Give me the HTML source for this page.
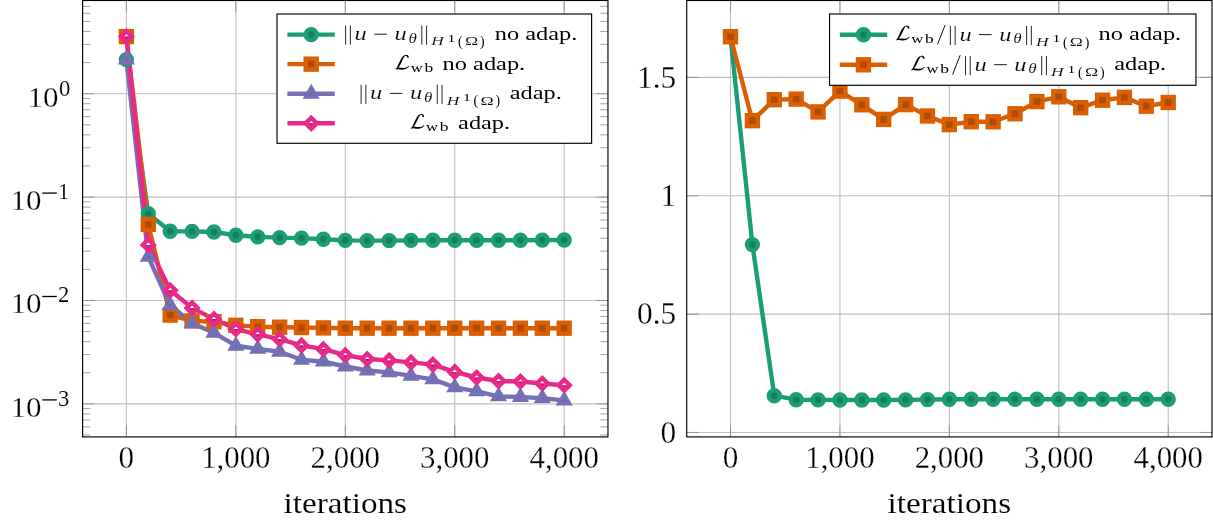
<!DOCTYPE html>
<html><head><meta charset="utf-8"><title>plots</title>
<style>html,body{margin:0;padding:0;background:#fff;}svg{display:block;will-change:transform;}text{font-family:"Liberation Serif",serif;}</style></head>
<body>
<svg width="1213" height="523" viewBox="0 0 1213 523" font-family="'Liberation Serif', serif">
<rect width="1213" height="523" fill="#fff"/>
<g><line x1="126.4" y1="0.5" x2="126.4" y2="436.92" stroke="#bfbfbf" stroke-width="1.1"/><line x1="235.85" y1="0.5" x2="235.85" y2="436.92" stroke="#bfbfbf" stroke-width="1.1"/><line x1="345.3" y1="0.5" x2="345.3" y2="436.92" stroke="#bfbfbf" stroke-width="1.1"/><line x1="454.75" y1="0.5" x2="454.75" y2="436.92" stroke="#bfbfbf" stroke-width="1.1"/><line x1="564.2" y1="0.5" x2="564.2" y2="436.92" stroke="#bfbfbf" stroke-width="1.1"/><line x1="82.6" y1="93.7" x2="607.96" y2="93.7" stroke="#bfbfbf" stroke-width="1.1"/><line x1="82.6" y1="197.1" x2="607.96" y2="197.1" stroke="#bfbfbf" stroke-width="1.1"/><line x1="82.6" y1="300.5" x2="607.96" y2="300.5" stroke="#bfbfbf" stroke-width="1.1"/><line x1="82.6" y1="403.9" x2="607.96" y2="403.9" stroke="#bfbfbf" stroke-width="1.1"/><line x1="126.4" y1="436.92" x2="126.4" y2="425.22" stroke="#808080" stroke-width="0.7"/><line x1="126.4" y1="0.5" x2="126.4" y2="12.2" stroke="#808080" stroke-width="0.7"/><line x1="235.85" y1="436.92" x2="235.85" y2="425.22" stroke="#808080" stroke-width="0.7"/><line x1="235.85" y1="0.5" x2="235.85" y2="12.2" stroke="#808080" stroke-width="0.7"/><line x1="345.3" y1="436.92" x2="345.3" y2="425.22" stroke="#808080" stroke-width="0.7"/><line x1="345.3" y1="0.5" x2="345.3" y2="12.2" stroke="#808080" stroke-width="0.7"/><line x1="454.75" y1="436.92" x2="454.75" y2="425.22" stroke="#808080" stroke-width="0.7"/><line x1="454.75" y1="0.5" x2="454.75" y2="12.2" stroke="#808080" stroke-width="0.7"/><line x1="564.2" y1="436.92" x2="564.2" y2="425.22" stroke="#808080" stroke-width="0.7"/><line x1="564.2" y1="0.5" x2="564.2" y2="12.2" stroke="#808080" stroke-width="0.7"/><line x1="82.6" y1="93.7" x2="94.3" y2="93.7" stroke="#808080" stroke-width="0.7"/><line x1="607.96" y1="93.7" x2="596.26" y2="93.7" stroke="#808080" stroke-width="0.7"/><line x1="82.6" y1="197.1" x2="94.3" y2="197.1" stroke="#808080" stroke-width="0.7"/><line x1="607.96" y1="197.1" x2="596.26" y2="197.1" stroke="#808080" stroke-width="0.7"/><line x1="82.6" y1="300.5" x2="94.3" y2="300.5" stroke="#808080" stroke-width="0.7"/><line x1="607.96" y1="300.5" x2="596.26" y2="300.5" stroke="#808080" stroke-width="0.7"/><line x1="82.6" y1="403.9" x2="94.3" y2="403.9" stroke="#808080" stroke-width="0.7"/><line x1="607.96" y1="403.9" x2="596.26" y2="403.9" stroke="#808080" stroke-width="0.7"/><line x1="82.6" y1="62.57" x2="90.4" y2="62.57" stroke="#808080" stroke-width="0.7"/><line x1="607.96" y1="62.57" x2="600.16" y2="62.57" stroke="#808080" stroke-width="0.7"/><line x1="82.6" y1="44.37" x2="90.4" y2="44.37" stroke="#808080" stroke-width="0.7"/><line x1="607.96" y1="44.37" x2="600.16" y2="44.37" stroke="#808080" stroke-width="0.7"/><line x1="82.6" y1="31.45" x2="90.4" y2="31.45" stroke="#808080" stroke-width="0.7"/><line x1="607.96" y1="31.45" x2="600.16" y2="31.45" stroke="#808080" stroke-width="0.7"/><line x1="82.6" y1="21.43" x2="90.4" y2="21.43" stroke="#808080" stroke-width="0.7"/><line x1="607.96" y1="21.43" x2="600.16" y2="21.43" stroke="#808080" stroke-width="0.7"/><line x1="82.6" y1="13.24" x2="90.4" y2="13.24" stroke="#808080" stroke-width="0.7"/><line x1="607.96" y1="13.24" x2="600.16" y2="13.24" stroke="#808080" stroke-width="0.7"/><line x1="82.6" y1="6.32" x2="90.4" y2="6.32" stroke="#808080" stroke-width="0.7"/><line x1="607.96" y1="6.32" x2="600.16" y2="6.32" stroke="#808080" stroke-width="0.7"/><line x1="82.6" y1="165.97" x2="90.4" y2="165.97" stroke="#808080" stroke-width="0.7"/><line x1="607.96" y1="165.97" x2="600.16" y2="165.97" stroke="#808080" stroke-width="0.7"/><line x1="82.6" y1="147.77" x2="90.4" y2="147.77" stroke="#808080" stroke-width="0.7"/><line x1="607.96" y1="147.77" x2="600.16" y2="147.77" stroke="#808080" stroke-width="0.7"/><line x1="82.6" y1="134.85" x2="90.4" y2="134.85" stroke="#808080" stroke-width="0.7"/><line x1="607.96" y1="134.85" x2="600.16" y2="134.85" stroke="#808080" stroke-width="0.7"/><line x1="82.6" y1="124.83" x2="90.4" y2="124.83" stroke="#808080" stroke-width="0.7"/><line x1="607.96" y1="124.83" x2="600.16" y2="124.83" stroke="#808080" stroke-width="0.7"/><line x1="82.6" y1="116.64" x2="90.4" y2="116.64" stroke="#808080" stroke-width="0.7"/><line x1="607.96" y1="116.64" x2="600.16" y2="116.64" stroke="#808080" stroke-width="0.7"/><line x1="82.6" y1="109.72" x2="90.4" y2="109.72" stroke="#808080" stroke-width="0.7"/><line x1="607.96" y1="109.72" x2="600.16" y2="109.72" stroke="#808080" stroke-width="0.7"/><line x1="82.6" y1="103.72" x2="90.4" y2="103.72" stroke="#808080" stroke-width="0.7"/><line x1="607.96" y1="103.72" x2="600.16" y2="103.72" stroke="#808080" stroke-width="0.7"/><line x1="82.6" y1="98.43" x2="90.4" y2="98.43" stroke="#808080" stroke-width="0.7"/><line x1="607.96" y1="98.43" x2="600.16" y2="98.43" stroke="#808080" stroke-width="0.7"/><line x1="82.6" y1="269.37" x2="90.4" y2="269.37" stroke="#808080" stroke-width="0.7"/><line x1="607.96" y1="269.37" x2="600.16" y2="269.37" stroke="#808080" stroke-width="0.7"/><line x1="82.6" y1="251.17" x2="90.4" y2="251.17" stroke="#808080" stroke-width="0.7"/><line x1="607.96" y1="251.17" x2="600.16" y2="251.17" stroke="#808080" stroke-width="0.7"/><line x1="82.6" y1="238.25" x2="90.4" y2="238.25" stroke="#808080" stroke-width="0.7"/><line x1="607.96" y1="238.25" x2="600.16" y2="238.25" stroke="#808080" stroke-width="0.7"/><line x1="82.6" y1="228.23" x2="90.4" y2="228.23" stroke="#808080" stroke-width="0.7"/><line x1="607.96" y1="228.23" x2="600.16" y2="228.23" stroke="#808080" stroke-width="0.7"/><line x1="82.6" y1="220.04" x2="90.4" y2="220.04" stroke="#808080" stroke-width="0.7"/><line x1="607.96" y1="220.04" x2="600.16" y2="220.04" stroke="#808080" stroke-width="0.7"/><line x1="82.6" y1="213.12" x2="90.4" y2="213.12" stroke="#808080" stroke-width="0.7"/><line x1="607.96" y1="213.12" x2="600.16" y2="213.12" stroke="#808080" stroke-width="0.7"/><line x1="82.6" y1="207.12" x2="90.4" y2="207.12" stroke="#808080" stroke-width="0.7"/><line x1="607.96" y1="207.12" x2="600.16" y2="207.12" stroke="#808080" stroke-width="0.7"/><line x1="82.6" y1="201.83" x2="90.4" y2="201.83" stroke="#808080" stroke-width="0.7"/><line x1="607.96" y1="201.83" x2="600.16" y2="201.83" stroke="#808080" stroke-width="0.7"/><line x1="82.6" y1="372.77" x2="90.4" y2="372.77" stroke="#808080" stroke-width="0.7"/><line x1="607.96" y1="372.77" x2="600.16" y2="372.77" stroke="#808080" stroke-width="0.7"/><line x1="82.6" y1="354.57" x2="90.4" y2="354.57" stroke="#808080" stroke-width="0.7"/><line x1="607.96" y1="354.57" x2="600.16" y2="354.57" stroke="#808080" stroke-width="0.7"/><line x1="82.6" y1="341.65" x2="90.4" y2="341.65" stroke="#808080" stroke-width="0.7"/><line x1="607.96" y1="341.65" x2="600.16" y2="341.65" stroke="#808080" stroke-width="0.7"/><line x1="82.6" y1="331.63" x2="90.4" y2="331.63" stroke="#808080" stroke-width="0.7"/><line x1="607.96" y1="331.63" x2="600.16" y2="331.63" stroke="#808080" stroke-width="0.7"/><line x1="82.6" y1="323.44" x2="90.4" y2="323.44" stroke="#808080" stroke-width="0.7"/><line x1="607.96" y1="323.44" x2="600.16" y2="323.44" stroke="#808080" stroke-width="0.7"/><line x1="82.6" y1="316.52" x2="90.4" y2="316.52" stroke="#808080" stroke-width="0.7"/><line x1="607.96" y1="316.52" x2="600.16" y2="316.52" stroke="#808080" stroke-width="0.7"/><line x1="82.6" y1="310.52" x2="90.4" y2="310.52" stroke="#808080" stroke-width="0.7"/><line x1="607.96" y1="310.52" x2="600.16" y2="310.52" stroke="#808080" stroke-width="0.7"/><line x1="82.6" y1="305.23" x2="90.4" y2="305.23" stroke="#808080" stroke-width="0.7"/><line x1="607.96" y1="305.23" x2="600.16" y2="305.23" stroke="#808080" stroke-width="0.7"/><line x1="82.6" y1="435.03" x2="90.4" y2="435.03" stroke="#808080" stroke-width="0.7"/><line x1="607.96" y1="435.03" x2="600.16" y2="435.03" stroke="#808080" stroke-width="0.7"/><line x1="82.6" y1="426.84" x2="90.4" y2="426.84" stroke="#808080" stroke-width="0.7"/><line x1="607.96" y1="426.84" x2="600.16" y2="426.84" stroke="#808080" stroke-width="0.7"/><line x1="82.6" y1="419.92" x2="90.4" y2="419.92" stroke="#808080" stroke-width="0.7"/><line x1="607.96" y1="419.92" x2="600.16" y2="419.92" stroke="#808080" stroke-width="0.7"/><line x1="82.6" y1="413.92" x2="90.4" y2="413.92" stroke="#808080" stroke-width="0.7"/><line x1="607.96" y1="413.92" x2="600.16" y2="413.92" stroke="#808080" stroke-width="0.7"/><line x1="82.6" y1="408.63" x2="90.4" y2="408.63" stroke="#808080" stroke-width="0.7"/><line x1="607.96" y1="408.63" x2="600.16" y2="408.63" stroke="#808080" stroke-width="0.7"/></g>
<g>
<polyline points="126.4,59.6 148.29,213.8 170.18,231.3 192.07,231.4 213.96,232 235.85,235.2 257.74,236.9 279.63,237.6 301.52,238.1 323.41,239.2 345.3,240.4 367.19,240.6 389.08,240.6 410.97,240.4 432.86,240.3 454.75,240.3 476.64,240.2 498.53,240.2 520.42,240.2 542.31,240.1 564.2,240" fill="none" stroke="#1b9e77" stroke-width="4.4" stroke-linejoin="round"/>
<polyline points="126.4,36.6 148.29,224.4 170.18,315.1 192.07,320.9 213.96,321.7 235.85,325.3 257.74,326.7 279.63,327.2 301.52,327.5 323.41,327.9 345.3,328.2 367.19,328.2 389.08,328.2 410.97,328.2 432.86,328.2 454.75,328.2 476.64,328.2 498.53,328.2 520.42,328.2 542.31,328.2 564.2,328.2" fill="none" stroke="#d95f02" stroke-width="4.4" stroke-linejoin="round"/>
<polyline points="126.4,59.6 148.29,256.8 170.18,305.3 192.07,323.2 213.96,332.8 235.85,345.7 257.74,348.9 279.63,351.7 301.52,359.8 323.41,361.6 345.3,366.5 367.19,370.5 389.08,372.4 410.97,375.9 432.86,379.3 454.75,387.4 476.64,391.4 498.53,396.4 520.42,397 542.31,398.1 564.2,400.5" fill="none" stroke="#7570b3" stroke-width="4.4" stroke-linejoin="round"/>
<polyline points="126.4,36.6 148.29,244.9 170.18,290.3 192.07,307.9 213.96,319.1 235.85,329.1 257.74,334.3 279.63,339.2 301.52,345.4 323.41,349.2 345.3,355.2 367.19,359 389.08,360.4 410.97,362.4 432.86,364.6 454.75,371.9 476.64,377.5 498.53,381 520.42,381.5 542.31,383.5 564.2,385.2" fill="none" stroke="#e7298a" stroke-width="4.4" stroke-linejoin="round"/>
</g><g>
<circle cx="126.4" cy="59.6" r="5.48" fill="#167e5f" stroke="#1b9e77" stroke-width="4.4"/>
<circle cx="148.29" cy="213.8" r="5.48" fill="#167e5f" stroke="#1b9e77" stroke-width="4.4"/>
<circle cx="170.18" cy="231.3" r="5.48" fill="#167e5f" stroke="#1b9e77" stroke-width="4.4"/>
<circle cx="192.07" cy="231.4" r="5.48" fill="#167e5f" stroke="#1b9e77" stroke-width="4.4"/>
<circle cx="213.96" cy="232" r="5.48" fill="#167e5f" stroke="#1b9e77" stroke-width="4.4"/>
<circle cx="235.85" cy="235.2" r="5.48" fill="#167e5f" stroke="#1b9e77" stroke-width="4.4"/>
<circle cx="257.74" cy="236.9" r="5.48" fill="#167e5f" stroke="#1b9e77" stroke-width="4.4"/>
<circle cx="279.63" cy="237.6" r="5.48" fill="#167e5f" stroke="#1b9e77" stroke-width="4.4"/>
<circle cx="301.52" cy="238.1" r="5.48" fill="#167e5f" stroke="#1b9e77" stroke-width="4.4"/>
<circle cx="323.41" cy="239.2" r="5.48" fill="#167e5f" stroke="#1b9e77" stroke-width="4.4"/>
<circle cx="345.3" cy="240.4" r="5.48" fill="#167e5f" stroke="#1b9e77" stroke-width="4.4"/>
<circle cx="367.19" cy="240.6" r="5.48" fill="#167e5f" stroke="#1b9e77" stroke-width="4.4"/>
<circle cx="389.08" cy="240.6" r="5.48" fill="#167e5f" stroke="#1b9e77" stroke-width="4.4"/>
<circle cx="410.97" cy="240.4" r="5.48" fill="#167e5f" stroke="#1b9e77" stroke-width="4.4"/>
<circle cx="432.86" cy="240.3" r="5.48" fill="#167e5f" stroke="#1b9e77" stroke-width="4.4"/>
<circle cx="454.75" cy="240.3" r="5.48" fill="#167e5f" stroke="#1b9e77" stroke-width="4.4"/>
<circle cx="476.64" cy="240.2" r="5.48" fill="#167e5f" stroke="#1b9e77" stroke-width="4.4"/>
<circle cx="498.53" cy="240.2" r="5.48" fill="#167e5f" stroke="#1b9e77" stroke-width="4.4"/>
<circle cx="520.42" cy="240.2" r="5.48" fill="#167e5f" stroke="#1b9e77" stroke-width="4.4"/>
<circle cx="542.31" cy="240.1" r="5.48" fill="#167e5f" stroke="#1b9e77" stroke-width="4.4"/>
<circle cx="564.2" cy="240" r="5.48" fill="#167e5f" stroke="#1b9e77" stroke-width="4.4"/>
<rect x="120.92" y="31.12" width="10.96" height="10.96" fill="#ae4c02" stroke="#d95f02" stroke-width="4.4"/>
<rect x="142.81" y="218.92" width="10.96" height="10.96" fill="#ae4c02" stroke="#d95f02" stroke-width="4.4"/>
<rect x="164.7" y="309.62" width="10.96" height="10.96" fill="#ae4c02" stroke="#d95f02" stroke-width="4.4"/>
<rect x="186.59" y="315.42" width="10.96" height="10.96" fill="#ae4c02" stroke="#d95f02" stroke-width="4.4"/>
<rect x="208.48" y="316.22" width="10.96" height="10.96" fill="#ae4c02" stroke="#d95f02" stroke-width="4.4"/>
<rect x="230.37" y="319.82" width="10.96" height="10.96" fill="#ae4c02" stroke="#d95f02" stroke-width="4.4"/>
<rect x="252.26" y="321.22" width="10.96" height="10.96" fill="#ae4c02" stroke="#d95f02" stroke-width="4.4"/>
<rect x="274.15" y="321.72" width="10.96" height="10.96" fill="#ae4c02" stroke="#d95f02" stroke-width="4.4"/>
<rect x="296.04" y="322.02" width="10.96" height="10.96" fill="#ae4c02" stroke="#d95f02" stroke-width="4.4"/>
<rect x="317.93" y="322.42" width="10.96" height="10.96" fill="#ae4c02" stroke="#d95f02" stroke-width="4.4"/>
<rect x="339.82" y="322.72" width="10.96" height="10.96" fill="#ae4c02" stroke="#d95f02" stroke-width="4.4"/>
<rect x="361.71" y="322.72" width="10.96" height="10.96" fill="#ae4c02" stroke="#d95f02" stroke-width="4.4"/>
<rect x="383.6" y="322.72" width="10.96" height="10.96" fill="#ae4c02" stroke="#d95f02" stroke-width="4.4"/>
<rect x="405.49" y="322.72" width="10.96" height="10.96" fill="#ae4c02" stroke="#d95f02" stroke-width="4.4"/>
<rect x="427.38" y="322.72" width="10.96" height="10.96" fill="#ae4c02" stroke="#d95f02" stroke-width="4.4"/>
<rect x="449.27" y="322.72" width="10.96" height="10.96" fill="#ae4c02" stroke="#d95f02" stroke-width="4.4"/>
<rect x="471.16" y="322.72" width="10.96" height="10.96" fill="#ae4c02" stroke="#d95f02" stroke-width="4.4"/>
<rect x="493.05" y="322.72" width="10.96" height="10.96" fill="#ae4c02" stroke="#d95f02" stroke-width="4.4"/>
<rect x="514.94" y="322.72" width="10.96" height="10.96" fill="#ae4c02" stroke="#d95f02" stroke-width="4.4"/>
<rect x="536.83" y="322.72" width="10.96" height="10.96" fill="#ae4c02" stroke="#d95f02" stroke-width="4.4"/>
<rect x="558.72" y="322.72" width="10.96" height="10.96" fill="#ae4c02" stroke="#d95f02" stroke-width="4.4"/>
<path d="M126.4 54.12L131.15 62.34L121.65 62.34Z" fill="#5e5a8f" stroke="#7570b3" stroke-width="4.4" stroke-linejoin="miter" stroke-miterlimit="10"/>
<path d="M148.29 251.32L153.04 259.54L143.54 259.54Z" fill="#5e5a8f" stroke="#7570b3" stroke-width="4.4" stroke-linejoin="miter" stroke-miterlimit="10"/>
<path d="M170.18 299.82L174.93 308.04L165.43 308.04Z" fill="#5e5a8f" stroke="#7570b3" stroke-width="4.4" stroke-linejoin="miter" stroke-miterlimit="10"/>
<path d="M192.07 317.72L196.82 325.94L187.32 325.94Z" fill="#5e5a8f" stroke="#7570b3" stroke-width="4.4" stroke-linejoin="miter" stroke-miterlimit="10"/>
<path d="M213.96 327.32L218.71 335.54L209.21 335.54Z" fill="#5e5a8f" stroke="#7570b3" stroke-width="4.4" stroke-linejoin="miter" stroke-miterlimit="10"/>
<path d="M235.85 340.22L240.6 348.44L231.1 348.44Z" fill="#5e5a8f" stroke="#7570b3" stroke-width="4.4" stroke-linejoin="miter" stroke-miterlimit="10"/>
<path d="M257.74 343.42L262.49 351.64L252.99 351.64Z" fill="#5e5a8f" stroke="#7570b3" stroke-width="4.4" stroke-linejoin="miter" stroke-miterlimit="10"/>
<path d="M279.63 346.22L284.38 354.44L274.88 354.44Z" fill="#5e5a8f" stroke="#7570b3" stroke-width="4.4" stroke-linejoin="miter" stroke-miterlimit="10"/>
<path d="M301.52 354.32L306.27 362.54L296.77 362.54Z" fill="#5e5a8f" stroke="#7570b3" stroke-width="4.4" stroke-linejoin="miter" stroke-miterlimit="10"/>
<path d="M323.41 356.12L328.16 364.34L318.66 364.34Z" fill="#5e5a8f" stroke="#7570b3" stroke-width="4.4" stroke-linejoin="miter" stroke-miterlimit="10"/>
<path d="M345.3 361.02L350.05 369.24L340.55 369.24Z" fill="#5e5a8f" stroke="#7570b3" stroke-width="4.4" stroke-linejoin="miter" stroke-miterlimit="10"/>
<path d="M367.19 365.02L371.94 373.24L362.44 373.24Z" fill="#5e5a8f" stroke="#7570b3" stroke-width="4.4" stroke-linejoin="miter" stroke-miterlimit="10"/>
<path d="M389.08 366.92L393.83 375.14L384.33 375.14Z" fill="#5e5a8f" stroke="#7570b3" stroke-width="4.4" stroke-linejoin="miter" stroke-miterlimit="10"/>
<path d="M410.97 370.42L415.72 378.64L406.22 378.64Z" fill="#5e5a8f" stroke="#7570b3" stroke-width="4.4" stroke-linejoin="miter" stroke-miterlimit="10"/>
<path d="M432.86 373.82L437.61 382.04L428.11 382.04Z" fill="#5e5a8f" stroke="#7570b3" stroke-width="4.4" stroke-linejoin="miter" stroke-miterlimit="10"/>
<path d="M454.75 381.92L459.5 390.14L450 390.14Z" fill="#5e5a8f" stroke="#7570b3" stroke-width="4.4" stroke-linejoin="miter" stroke-miterlimit="10"/>
<path d="M476.64 385.92L481.39 394.14L471.89 394.14Z" fill="#5e5a8f" stroke="#7570b3" stroke-width="4.4" stroke-linejoin="miter" stroke-miterlimit="10"/>
<path d="M498.53 390.92L503.28 399.14L493.78 399.14Z" fill="#5e5a8f" stroke="#7570b3" stroke-width="4.4" stroke-linejoin="miter" stroke-miterlimit="10"/>
<path d="M520.42 391.52L525.17 399.74L515.67 399.74Z" fill="#5e5a8f" stroke="#7570b3" stroke-width="4.4" stroke-linejoin="miter" stroke-miterlimit="10"/>
<path d="M542.31 392.62L547.06 400.84L537.56 400.84Z" fill="#5e5a8f" stroke="#7570b3" stroke-width="4.4" stroke-linejoin="miter" stroke-miterlimit="10"/>
<path d="M564.2 395.02L568.95 403.24L559.45 403.24Z" fill="#5e5a8f" stroke="#7570b3" stroke-width="4.4" stroke-linejoin="miter" stroke-miterlimit="10"/>
<path d="M126.4 31.12L131.88 36.6L126.4 42.08L120.92 36.6Z" fill="#e7298a" stroke="#e7298a" stroke-width="4.4" stroke-linejoin="miter" stroke-miterlimit="10"/><path d="M124.03 36.6L126.4 34.23L128.77 36.6Z" fill="#fff"/><path d="M124.03 36.6L128.77 36.6L126.4 38.97Z" fill="#b9216e"/>
<path d="M148.29 239.42L153.77 244.9L148.29 250.38L142.81 244.9Z" fill="#e7298a" stroke="#e7298a" stroke-width="4.4" stroke-linejoin="miter" stroke-miterlimit="10"/><path d="M145.92 244.9L148.29 242.53L150.66 244.9Z" fill="#fff"/><path d="M145.92 244.9L150.66 244.9L148.29 247.27Z" fill="#b9216e"/>
<path d="M170.18 284.82L175.66 290.3L170.18 295.78L164.7 290.3Z" fill="#e7298a" stroke="#e7298a" stroke-width="4.4" stroke-linejoin="miter" stroke-miterlimit="10"/><path d="M167.81 290.3L170.18 287.93L172.55 290.3Z" fill="#fff"/><path d="M167.81 290.3L172.55 290.3L170.18 292.67Z" fill="#b9216e"/>
<path d="M192.07 302.42L197.55 307.9L192.07 313.38L186.59 307.9Z" fill="#e7298a" stroke="#e7298a" stroke-width="4.4" stroke-linejoin="miter" stroke-miterlimit="10"/><path d="M189.7 307.9L192.07 305.53L194.44 307.9Z" fill="#fff"/><path d="M189.7 307.9L194.44 307.9L192.07 310.27Z" fill="#b9216e"/>
<path d="M213.96 313.62L219.44 319.1L213.96 324.58L208.48 319.1Z" fill="#e7298a" stroke="#e7298a" stroke-width="4.4" stroke-linejoin="miter" stroke-miterlimit="10"/><path d="M211.59 319.1L213.96 316.73L216.33 319.1Z" fill="#fff"/><path d="M211.59 319.1L216.33 319.1L213.96 321.47Z" fill="#b9216e"/>
<path d="M235.85 323.62L241.33 329.1L235.85 334.58L230.37 329.1Z" fill="#e7298a" stroke="#e7298a" stroke-width="4.4" stroke-linejoin="miter" stroke-miterlimit="10"/><path d="M233.48 329.1L235.85 326.73L238.22 329.1Z" fill="#fff"/><path d="M233.48 329.1L238.22 329.1L235.85 331.47Z" fill="#b9216e"/>
<path d="M257.74 328.82L263.22 334.3L257.74 339.78L252.26 334.3Z" fill="#e7298a" stroke="#e7298a" stroke-width="4.4" stroke-linejoin="miter" stroke-miterlimit="10"/><path d="M255.37 334.3L257.74 331.93L260.11 334.3Z" fill="#fff"/><path d="M255.37 334.3L260.11 334.3L257.74 336.67Z" fill="#b9216e"/>
<path d="M279.63 333.72L285.11 339.2L279.63 344.68L274.15 339.2Z" fill="#e7298a" stroke="#e7298a" stroke-width="4.4" stroke-linejoin="miter" stroke-miterlimit="10"/><path d="M277.26 339.2L279.63 336.83L282 339.2Z" fill="#fff"/><path d="M277.26 339.2L282 339.2L279.63 341.57Z" fill="#b9216e"/>
<path d="M301.52 339.92L307 345.4L301.52 350.88L296.04 345.4Z" fill="#e7298a" stroke="#e7298a" stroke-width="4.4" stroke-linejoin="miter" stroke-miterlimit="10"/><path d="M299.15 345.4L301.52 343.03L303.89 345.4Z" fill="#fff"/><path d="M299.15 345.4L303.89 345.4L301.52 347.77Z" fill="#b9216e"/>
<path d="M323.41 343.72L328.89 349.2L323.41 354.68L317.93 349.2Z" fill="#e7298a" stroke="#e7298a" stroke-width="4.4" stroke-linejoin="miter" stroke-miterlimit="10"/><path d="M321.04 349.2L323.41 346.83L325.78 349.2Z" fill="#fff"/><path d="M321.04 349.2L325.78 349.2L323.41 351.57Z" fill="#b9216e"/>
<path d="M345.3 349.72L350.78 355.2L345.3 360.68L339.82 355.2Z" fill="#e7298a" stroke="#e7298a" stroke-width="4.4" stroke-linejoin="miter" stroke-miterlimit="10"/><path d="M342.93 355.2L345.3 352.83L347.67 355.2Z" fill="#fff"/><path d="M342.93 355.2L347.67 355.2L345.3 357.57Z" fill="#b9216e"/>
<path d="M367.19 353.52L372.67 359L367.19 364.48L361.71 359Z" fill="#e7298a" stroke="#e7298a" stroke-width="4.4" stroke-linejoin="miter" stroke-miterlimit="10"/><path d="M364.82 359L367.19 356.63L369.56 359Z" fill="#fff"/><path d="M364.82 359L369.56 359L367.19 361.37Z" fill="#b9216e"/>
<path d="M389.08 354.92L394.56 360.4L389.08 365.88L383.6 360.4Z" fill="#e7298a" stroke="#e7298a" stroke-width="4.4" stroke-linejoin="miter" stroke-miterlimit="10"/><path d="M386.71 360.4L389.08 358.03L391.45 360.4Z" fill="#fff"/><path d="M386.71 360.4L391.45 360.4L389.08 362.77Z" fill="#b9216e"/>
<path d="M410.97 356.92L416.45 362.4L410.97 367.88L405.49 362.4Z" fill="#e7298a" stroke="#e7298a" stroke-width="4.4" stroke-linejoin="miter" stroke-miterlimit="10"/><path d="M408.6 362.4L410.97 360.03L413.34 362.4Z" fill="#fff"/><path d="M408.6 362.4L413.34 362.4L410.97 364.77Z" fill="#b9216e"/>
<path d="M432.86 359.12L438.34 364.6L432.86 370.08L427.38 364.6Z" fill="#e7298a" stroke="#e7298a" stroke-width="4.4" stroke-linejoin="miter" stroke-miterlimit="10"/><path d="M430.49 364.6L432.86 362.23L435.23 364.6Z" fill="#fff"/><path d="M430.49 364.6L435.23 364.6L432.86 366.97Z" fill="#b9216e"/>
<path d="M454.75 366.42L460.23 371.9L454.75 377.38L449.27 371.9Z" fill="#e7298a" stroke="#e7298a" stroke-width="4.4" stroke-linejoin="miter" stroke-miterlimit="10"/><path d="M452.38 371.9L454.75 369.53L457.12 371.9Z" fill="#fff"/><path d="M452.38 371.9L457.12 371.9L454.75 374.27Z" fill="#b9216e"/>
<path d="M476.64 372.02L482.12 377.5L476.64 382.98L471.16 377.5Z" fill="#e7298a" stroke="#e7298a" stroke-width="4.4" stroke-linejoin="miter" stroke-miterlimit="10"/><path d="M474.27 377.5L476.64 375.13L479.01 377.5Z" fill="#fff"/><path d="M474.27 377.5L479.01 377.5L476.64 379.87Z" fill="#b9216e"/>
<path d="M498.53 375.52L504.01 381L498.53 386.48L493.05 381Z" fill="#e7298a" stroke="#e7298a" stroke-width="4.4" stroke-linejoin="miter" stroke-miterlimit="10"/><path d="M496.16 381L498.53 378.63L500.9 381Z" fill="#fff"/><path d="M496.16 381L500.9 381L498.53 383.37Z" fill="#b9216e"/>
<path d="M520.42 376.02L525.9 381.5L520.42 386.98L514.94 381.5Z" fill="#e7298a" stroke="#e7298a" stroke-width="4.4" stroke-linejoin="miter" stroke-miterlimit="10"/><path d="M518.05 381.5L520.42 379.13L522.79 381.5Z" fill="#fff"/><path d="M518.05 381.5L522.79 381.5L520.42 383.87Z" fill="#b9216e"/>
<path d="M542.31 378.02L547.79 383.5L542.31 388.98L536.83 383.5Z" fill="#e7298a" stroke="#e7298a" stroke-width="4.4" stroke-linejoin="miter" stroke-miterlimit="10"/><path d="M539.94 383.5L542.31 381.13L544.68 383.5Z" fill="#fff"/><path d="M539.94 383.5L544.68 383.5L542.31 385.87Z" fill="#b9216e"/>
<path d="M564.2 379.72L569.68 385.2L564.2 390.68L558.72 385.2Z" fill="#e7298a" stroke="#e7298a" stroke-width="4.4" stroke-linejoin="miter" stroke-miterlimit="10"/><path d="M561.83 385.2L564.2 382.83L566.57 385.2Z" fill="#fff"/><path d="M561.83 385.2L566.57 385.2L564.2 387.57Z" fill="#b9216e"/>
</g>
<rect x="82.6" y="0.5" width="525.36" height="436.42" fill="none" stroke="#000" stroke-width="1.15"/>
<g><line x1="730.5" y1="0.5" x2="730.5" y2="436.92" stroke="#bfbfbf" stroke-width="1.1"/><line x1="839.93" y1="0.5" x2="839.93" y2="436.92" stroke="#bfbfbf" stroke-width="1.1"/><line x1="949.36" y1="0.5" x2="949.36" y2="436.92" stroke="#bfbfbf" stroke-width="1.1"/><line x1="1058.79" y1="0.5" x2="1058.79" y2="436.92" stroke="#bfbfbf" stroke-width="1.1"/><line x1="1168.22" y1="0.5" x2="1168.22" y2="436.92" stroke="#bfbfbf" stroke-width="1.1"/><line x1="686.72" y1="432.45" x2="1212" y2="432.45" stroke="#bfbfbf" stroke-width="1.1"/><line x1="686.72" y1="314.1" x2="1212" y2="314.1" stroke="#bfbfbf" stroke-width="1.1"/><line x1="686.72" y1="195.75" x2="1212" y2="195.75" stroke="#bfbfbf" stroke-width="1.1"/><line x1="686.72" y1="77.4" x2="1212" y2="77.4" stroke="#bfbfbf" stroke-width="1.1"/><line x1="730.5" y1="436.92" x2="730.5" y2="425.22" stroke="#808080" stroke-width="0.7"/><line x1="730.5" y1="0.5" x2="730.5" y2="12.2" stroke="#808080" stroke-width="0.7"/><line x1="839.93" y1="436.92" x2="839.93" y2="425.22" stroke="#808080" stroke-width="0.7"/><line x1="839.93" y1="0.5" x2="839.93" y2="12.2" stroke="#808080" stroke-width="0.7"/><line x1="949.36" y1="436.92" x2="949.36" y2="425.22" stroke="#808080" stroke-width="0.7"/><line x1="949.36" y1="0.5" x2="949.36" y2="12.2" stroke="#808080" stroke-width="0.7"/><line x1="1058.79" y1="436.92" x2="1058.79" y2="425.22" stroke="#808080" stroke-width="0.7"/><line x1="1058.79" y1="0.5" x2="1058.79" y2="12.2" stroke="#808080" stroke-width="0.7"/><line x1="1168.22" y1="436.92" x2="1168.22" y2="425.22" stroke="#808080" stroke-width="0.7"/><line x1="1168.22" y1="0.5" x2="1168.22" y2="12.2" stroke="#808080" stroke-width="0.7"/><line x1="686.72" y1="432.45" x2="698.42" y2="432.45" stroke="#808080" stroke-width="0.7"/><line x1="1212" y1="432.45" x2="1200.3" y2="432.45" stroke="#808080" stroke-width="0.7"/><line x1="686.72" y1="314.1" x2="698.42" y2="314.1" stroke="#808080" stroke-width="0.7"/><line x1="1212" y1="314.1" x2="1200.3" y2="314.1" stroke="#808080" stroke-width="0.7"/><line x1="686.72" y1="195.75" x2="698.42" y2="195.75" stroke="#808080" stroke-width="0.7"/><line x1="1212" y1="195.75" x2="1200.3" y2="195.75" stroke="#808080" stroke-width="0.7"/><line x1="686.72" y1="77.4" x2="698.42" y2="77.4" stroke="#808080" stroke-width="0.7"/><line x1="1212" y1="77.4" x2="1200.3" y2="77.4" stroke="#808080" stroke-width="0.7"/></g>
<g>
<polyline points="730.5,36.7 752.39,244.6 774.27,395.7 796.16,399.7 818.04,399.9 839.93,400 861.82,400 883.7,400 905.59,399.9 927.47,399.6 949.36,399.3 971.25,399.3 993.13,399.3 1015.02,399.3 1036.9,399.3 1058.79,399.3 1080.68,399.3 1102.56,399.3 1124.45,399.3 1146.33,399.3 1168.22,399.3" fill="none" stroke="#1b9e77" stroke-width="4.4" stroke-linejoin="round"/>
<polyline points="730.5,36.7 752.39,120.7 774.27,99.7 796.16,99.1 818.04,111.9 839.93,91.1 861.82,104.8 883.7,119.4 905.59,104.6 927.47,116 949.36,124.6 971.25,121.7 993.13,121.8 1015.02,113.8 1036.9,101.6 1058.79,96.8 1080.68,107.7 1102.56,100.2 1124.45,97.4 1146.33,106.2 1168.22,102.5" fill="none" stroke="#d95f02" stroke-width="4.4" stroke-linejoin="round"/>
</g><g>
<circle cx="730.5" cy="36.7" r="5.48" fill="#167e5f" stroke="#1b9e77" stroke-width="4.4"/>
<circle cx="752.39" cy="244.6" r="5.48" fill="#167e5f" stroke="#1b9e77" stroke-width="4.4"/>
<circle cx="774.27" cy="395.7" r="5.48" fill="#167e5f" stroke="#1b9e77" stroke-width="4.4"/>
<circle cx="796.16" cy="399.7" r="5.48" fill="#167e5f" stroke="#1b9e77" stroke-width="4.4"/>
<circle cx="818.04" cy="399.9" r="5.48" fill="#167e5f" stroke="#1b9e77" stroke-width="4.4"/>
<circle cx="839.93" cy="400" r="5.48" fill="#167e5f" stroke="#1b9e77" stroke-width="4.4"/>
<circle cx="861.82" cy="400" r="5.48" fill="#167e5f" stroke="#1b9e77" stroke-width="4.4"/>
<circle cx="883.7" cy="400" r="5.48" fill="#167e5f" stroke="#1b9e77" stroke-width="4.4"/>
<circle cx="905.59" cy="399.9" r="5.48" fill="#167e5f" stroke="#1b9e77" stroke-width="4.4"/>
<circle cx="927.47" cy="399.6" r="5.48" fill="#167e5f" stroke="#1b9e77" stroke-width="4.4"/>
<circle cx="949.36" cy="399.3" r="5.48" fill="#167e5f" stroke="#1b9e77" stroke-width="4.4"/>
<circle cx="971.25" cy="399.3" r="5.48" fill="#167e5f" stroke="#1b9e77" stroke-width="4.4"/>
<circle cx="993.13" cy="399.3" r="5.48" fill="#167e5f" stroke="#1b9e77" stroke-width="4.4"/>
<circle cx="1015.02" cy="399.3" r="5.48" fill="#167e5f" stroke="#1b9e77" stroke-width="4.4"/>
<circle cx="1036.9" cy="399.3" r="5.48" fill="#167e5f" stroke="#1b9e77" stroke-width="4.4"/>
<circle cx="1058.79" cy="399.3" r="5.48" fill="#167e5f" stroke="#1b9e77" stroke-width="4.4"/>
<circle cx="1080.68" cy="399.3" r="5.48" fill="#167e5f" stroke="#1b9e77" stroke-width="4.4"/>
<circle cx="1102.56" cy="399.3" r="5.48" fill="#167e5f" stroke="#1b9e77" stroke-width="4.4"/>
<circle cx="1124.45" cy="399.3" r="5.48" fill="#167e5f" stroke="#1b9e77" stroke-width="4.4"/>
<circle cx="1146.33" cy="399.3" r="5.48" fill="#167e5f" stroke="#1b9e77" stroke-width="4.4"/>
<circle cx="1168.22" cy="399.3" r="5.48" fill="#167e5f" stroke="#1b9e77" stroke-width="4.4"/>
<rect x="725.02" y="31.22" width="10.96" height="10.96" fill="#ae4c02" stroke="#d95f02" stroke-width="4.4"/>
<rect x="746.91" y="115.22" width="10.96" height="10.96" fill="#ae4c02" stroke="#d95f02" stroke-width="4.4"/>
<rect x="768.79" y="94.22" width="10.96" height="10.96" fill="#ae4c02" stroke="#d95f02" stroke-width="4.4"/>
<rect x="790.68" y="93.62" width="10.96" height="10.96" fill="#ae4c02" stroke="#d95f02" stroke-width="4.4"/>
<rect x="812.56" y="106.42" width="10.96" height="10.96" fill="#ae4c02" stroke="#d95f02" stroke-width="4.4"/>
<rect x="834.45" y="85.62" width="10.96" height="10.96" fill="#ae4c02" stroke="#d95f02" stroke-width="4.4"/>
<rect x="856.34" y="99.32" width="10.96" height="10.96" fill="#ae4c02" stroke="#d95f02" stroke-width="4.4"/>
<rect x="878.22" y="113.92" width="10.96" height="10.96" fill="#ae4c02" stroke="#d95f02" stroke-width="4.4"/>
<rect x="900.11" y="99.12" width="10.96" height="10.96" fill="#ae4c02" stroke="#d95f02" stroke-width="4.4"/>
<rect x="921.99" y="110.52" width="10.96" height="10.96" fill="#ae4c02" stroke="#d95f02" stroke-width="4.4"/>
<rect x="943.88" y="119.12" width="10.96" height="10.96" fill="#ae4c02" stroke="#d95f02" stroke-width="4.4"/>
<rect x="965.77" y="116.22" width="10.96" height="10.96" fill="#ae4c02" stroke="#d95f02" stroke-width="4.4"/>
<rect x="987.65" y="116.32" width="10.96" height="10.96" fill="#ae4c02" stroke="#d95f02" stroke-width="4.4"/>
<rect x="1009.54" y="108.32" width="10.96" height="10.96" fill="#ae4c02" stroke="#d95f02" stroke-width="4.4"/>
<rect x="1031.42" y="96.12" width="10.96" height="10.96" fill="#ae4c02" stroke="#d95f02" stroke-width="4.4"/>
<rect x="1053.31" y="91.32" width="10.96" height="10.96" fill="#ae4c02" stroke="#d95f02" stroke-width="4.4"/>
<rect x="1075.2" y="102.22" width="10.96" height="10.96" fill="#ae4c02" stroke="#d95f02" stroke-width="4.4"/>
<rect x="1097.08" y="94.72" width="10.96" height="10.96" fill="#ae4c02" stroke="#d95f02" stroke-width="4.4"/>
<rect x="1118.97" y="91.92" width="10.96" height="10.96" fill="#ae4c02" stroke="#d95f02" stroke-width="4.4"/>
<rect x="1140.85" y="100.72" width="10.96" height="10.96" fill="#ae4c02" stroke="#d95f02" stroke-width="4.4"/>
<rect x="1162.74" y="97.02" width="10.96" height="10.96" fill="#ae4c02" stroke="#d95f02" stroke-width="4.4"/>
</g>
<rect x="686.72" y="0.5" width="525.28" height="436.42" fill="none" stroke="#000" stroke-width="1.15"/>
<g stroke="#fff" stroke-width="0.26">
<text x="126.4" y="467.6" font-size="30.9" text-anchor="middle" textLength="15.6" lengthAdjust="spacingAndGlyphs" fill="#000">0</text>
<text x="730.5" y="467.6" font-size="30.9" text-anchor="middle" textLength="15.6" lengthAdjust="spacingAndGlyphs" fill="#000">0</text>
<text x="235.85" y="467.6" font-size="30.9" text-anchor="middle" textLength="69.4" lengthAdjust="spacingAndGlyphs" fill="#000">1,000</text>
<text x="839.93" y="467.6" font-size="30.9" text-anchor="middle" textLength="69.4" lengthAdjust="spacingAndGlyphs" fill="#000">1,000</text>
<text x="345.3" y="467.6" font-size="30.9" text-anchor="middle" textLength="69.4" lengthAdjust="spacingAndGlyphs" fill="#000">2,000</text>
<text x="949.36" y="467.6" font-size="30.9" text-anchor="middle" textLength="69.4" lengthAdjust="spacingAndGlyphs" fill="#000">2,000</text>
<text x="454.75" y="467.6" font-size="30.9" text-anchor="middle" textLength="69.4" lengthAdjust="spacingAndGlyphs" fill="#000">3,000</text>
<text x="1058.79" y="467.6" font-size="30.9" text-anchor="middle" textLength="69.4" lengthAdjust="spacingAndGlyphs" fill="#000">3,000</text>
<text x="564.2" y="467.6" font-size="30.9" text-anchor="middle" textLength="69.4" lengthAdjust="spacingAndGlyphs" fill="#000">4,000</text>
<text x="1168.22" y="467.6" font-size="30.9" text-anchor="middle" textLength="69.4" lengthAdjust="spacingAndGlyphs" fill="#000">4,000</text>
<text x="345.28" y="512.8" font-size="30.2" text-anchor="middle" textLength="123.5" lengthAdjust="spacingAndGlyphs" fill="#000" stroke-width="0.1">iterations</text>
<text x="949.36" y="512.8" font-size="30.2" text-anchor="middle" textLength="123.5" lengthAdjust="spacingAndGlyphs" fill="#000" stroke-width="0.1">iterations</text>
<text x="676.3" y="442.65" font-size="30.9" text-anchor="end" textLength="15.7" lengthAdjust="spacingAndGlyphs" fill="#000">0</text>
<text x="676.3" y="324.3" font-size="30.9" text-anchor="end" textLength="39.2" lengthAdjust="spacingAndGlyphs" fill="#000">0.5</text>
<text x="676.3" y="205.95" font-size="30.9" text-anchor="end" textLength="15.7" lengthAdjust="spacingAndGlyphs" fill="#000">1</text>
<text x="676.3" y="87.6" font-size="30.9" text-anchor="end" textLength="39.2" lengthAdjust="spacingAndGlyphs" fill="#000">1.5</text>
<text x="58.6" y="106.5" font-size="30.2" text-anchor="end" textLength="31" lengthAdjust="spacingAndGlyphs" fill="#000">10</text>
<text x="58.9" y="95.7" font-size="22.6" fill="#000" stroke-width="0.1">0</text>
<text x="41.6" y="209.9" font-size="30.2" text-anchor="end" textLength="31" lengthAdjust="spacingAndGlyphs" fill="#000">10</text>
<line x1="42.3" y1="193.1" x2="56.8" y2="193.1" stroke="#000" stroke-width="1.3"/>
<text x="58.1" y="199" font-size="22.6" fill="#000" stroke-width="0.1">1</text>
<text x="41.6" y="313.3" font-size="30.2" text-anchor="end" textLength="31" lengthAdjust="spacingAndGlyphs" fill="#000">10</text>
<line x1="42.3" y1="296.5" x2="56.8" y2="296.5" stroke="#000" stroke-width="1.3"/>
<text x="58.1" y="302.4" font-size="22.6" fill="#000" stroke-width="0.1">2</text>
<text x="41.6" y="416.7" font-size="30.2" text-anchor="end" textLength="31" lengthAdjust="spacingAndGlyphs" fill="#000">10</text>
<line x1="42.3" y1="399.9" x2="56.8" y2="399.9" stroke="#000" stroke-width="1.3"/>
<text x="58.1" y="405.8" font-size="22.6" fill="#000" stroke-width="0.1">3</text>
</g>
<g>
<rect x="277" y="14" width="314.6" height="129.3" fill="#fff" stroke="#000" stroke-width="1.15"/>
<line x1="287.4" y1="34.65" x2="334.8" y2="34.65" stroke="#1b9e77" stroke-width="4.4"/>
<circle cx="311.2" cy="34.65" r="5.48" fill="#167e5f" stroke="#1b9e77" stroke-width="4.4"/>
<line x1="287.4" y1="64.15" x2="334.8" y2="64.15" stroke="#d95f02" stroke-width="4.4"/>
<rect x="305.72" y="58.67" width="10.96" height="10.96" fill="#ae4c02" stroke="#d95f02" stroke-width="4.4"/>
<line x1="287.4" y1="93.7" x2="334.8" y2="93.7" stroke="#7570b3" stroke-width="4.4"/>
<path d="M311.2 88.22L315.95 96.44L306.45 96.44Z" fill="#5e5a8f" stroke="#7570b3" stroke-width="4.4" stroke-linejoin="miter" stroke-miterlimit="10"/>
<line x1="287.4" y1="123.3" x2="334.8" y2="123.3" stroke="#e7298a" stroke-width="4.4"/>
<path d="M311.2 117.82L316.68 123.3L311.2 128.78L305.72 123.3Z" fill="#e7298a" stroke="#e7298a" stroke-width="4.4" stroke-linejoin="miter" stroke-miterlimit="10"/><path d="M308.83 123.3L311.2 120.93L313.57 123.3Z" fill="#fff"/><path d="M308.83 123.3L313.57 123.3L311.2 125.67Z" fill="#b9216e"/>
<path d="M345.6 25.5V44.7M350.35 25.5V44.7" stroke="#111" stroke-width="0.9" fill="none"/><text x="354.6" y="40.2" font-size="19.8" font-style="italic" textLength="12.2" lengthAdjust="spacingAndGlyphs" fill="#000" stroke="#fff" stroke-width="0.15">u</text><line x1="374.2" y1="34.2" x2="386.9" y2="34.2" stroke="#000" stroke-width="0.9"/><text x="394.4" y="40.2" font-size="19.8" font-style="italic" textLength="12.2" lengthAdjust="spacingAndGlyphs" fill="#000" stroke="#fff" stroke-width="0.15">u</text><text x="408.4" y="42.9" font-size="14.5" font-style="italic" textLength="8.4" lengthAdjust="spacingAndGlyphs" fill="#000" stroke="#fff" stroke-width="0.12">θ</text><path d="M421.8 25.5V44.7M426.55 25.5V44.7" stroke="#111" stroke-width="0.9" fill="none"/><text x="431.2" y="45.3" font-size="12.4" font-style="italic" textLength="12.6" lengthAdjust="spacingAndGlyphs" fill="#000" stroke="#fff" stroke-width="0.12">H</text><text x="447.6" y="42" font-size="11" textLength="7.8" lengthAdjust="spacingAndGlyphs" fill="#000">1</text><text x="458.1" y="46.2" font-size="13.6" textLength="4.6" lengthAdjust="spacingAndGlyphs" fill="#000">(</text><text x="465" y="45.3" font-size="12.9" textLength="13.2" lengthAdjust="spacingAndGlyphs" fill="#000" stroke="#fff" stroke-width="0.12">Ω</text><text x="480" y="46.2" font-size="13.6" textLength="4.6" lengthAdjust="spacingAndGlyphs" fill="#000">)</text>
<text x="494.8" y="39.9" font-size="17.9" textLength="82.6" lengthAdjust="spacingAndGlyphs" fill="#000">no adap.</text>
<path transform="translate(395.5 69.5) scale(1.0)" d="M13.08 -11.44L13.2 -11.95L13.23 -12.45L13.17 -12.92L13.02 -13.35L12.8 -13.73L12.53 -14.04L12.21 -14.29L11.87 -14.47L11.5 -14.6L11.12 -14.67L10.74 -14.68L10.36 -14.63L10 -14.53L9.64 -14.37L9.96 -13.63L10.21 -13.68L10.46 -13.68L10.69 -13.65L10.9 -13.58L11.08 -13.48L11.24 -13.37L11.36 -13.24L11.45 -13.1L11.51 -12.96L11.53 -12.82L11.52 -12.68L11.49 -12.53L11.43 -12.36L11.32 -12.16ZM9.72 -14.39L8.8 -14.14L7.93 -13.6L7.11 -12.83L6.35 -11.88L5.64 -10.78L4.97 -9.57L4.34 -8.29L3.74 -6.98L3.16 -5.67L2.59 -4.4L2 -3.21L1.38 -2.12L0.72 -1.18L-0.03 -0.43L0.43 0.23L1.41 -0.48L2.35 -1.37L3.22 -2.43L4.03 -3.6L4.78 -4.86L5.47 -6.16L6.11 -7.46L6.69 -8.73L7.24 -9.93L7.76 -11.02L8.27 -11.96L8.78 -12.72L9.31 -13.28L9.88 -13.61ZM0.46 0.17L1.1 -0.18L1.78 -0.33L2.49 -0.33L3.27 -0.24L4.12 -0.11L5.05 0.03L6.05 0.13L7.11 0.16L8.22 0.06L9.35 -0.19L10.47 -0.63L11.56 -1.26L12.61 -2.1L13.68 -3.15L13.12 -3.65L12.11 -2.72L11.07 -2.13L10.05 -1.8L9.06 -1.64L8.1 -1.62L7.15 -1.67L6.2 -1.76L5.24 -1.84L4.27 -1.89L3.31 -1.86L2.37 -1.73L1.47 -1.45L0.66 -1L-0.06 -0.37Z" fill="#000"/><text x="410.7" y="71.8" font-size="13.4" textLength="12" lengthAdjust="spacingAndGlyphs" fill="#000">w</text><text x="424.5" y="71.8" font-size="13.4" textLength="8.8" lengthAdjust="spacingAndGlyphs" fill="#000">b</text>
<text x="442.6" y="69.5" font-size="17.9" textLength="82.6" lengthAdjust="spacingAndGlyphs" fill="#000">no adap.</text>
<path d="M361.1 84.7V103.9M365.85 84.7V103.9" stroke="#111" stroke-width="0.9" fill="none"/><text x="370.1" y="99.4" font-size="19.8" font-style="italic" textLength="12.2" lengthAdjust="spacingAndGlyphs" fill="#000" stroke="#fff" stroke-width="0.15">u</text><line x1="389.7" y1="93.4" x2="402.4" y2="93.4" stroke="#000" stroke-width="0.9"/><text x="409.9" y="99.4" font-size="19.8" font-style="italic" textLength="12.2" lengthAdjust="spacingAndGlyphs" fill="#000" stroke="#fff" stroke-width="0.15">u</text><text x="423.9" y="102.1" font-size="14.5" font-style="italic" textLength="8.4" lengthAdjust="spacingAndGlyphs" fill="#000" stroke="#fff" stroke-width="0.12">θ</text><path d="M437.3 84.7V103.9M442.05 84.7V103.9" stroke="#111" stroke-width="0.9" fill="none"/><text x="446.7" y="104.5" font-size="12.4" font-style="italic" textLength="12.6" lengthAdjust="spacingAndGlyphs" fill="#000" stroke="#fff" stroke-width="0.12">H</text><text x="463.1" y="101.2" font-size="11" textLength="7.8" lengthAdjust="spacingAndGlyphs" fill="#000">1</text><text x="473.6" y="105.4" font-size="13.6" textLength="4.6" lengthAdjust="spacingAndGlyphs" fill="#000">(</text><text x="480.5" y="104.5" font-size="12.9" textLength="13.2" lengthAdjust="spacingAndGlyphs" fill="#000" stroke="#fff" stroke-width="0.12">Ω</text><text x="495.5" y="105.4" font-size="13.6" textLength="4.6" lengthAdjust="spacingAndGlyphs" fill="#000">)</text>
<text x="509.8" y="99.1" font-size="17.9" textLength="52" lengthAdjust="spacingAndGlyphs" fill="#000">adap.</text>
<path transform="translate(410.8 128.7) scale(1.0)" d="M13.08 -11.44L13.2 -11.95L13.23 -12.45L13.17 -12.92L13.02 -13.35L12.8 -13.73L12.53 -14.04L12.21 -14.29L11.87 -14.47L11.5 -14.6L11.12 -14.67L10.74 -14.68L10.36 -14.63L10 -14.53L9.64 -14.37L9.96 -13.63L10.21 -13.68L10.46 -13.68L10.69 -13.65L10.9 -13.58L11.08 -13.48L11.24 -13.37L11.36 -13.24L11.45 -13.1L11.51 -12.96L11.53 -12.82L11.52 -12.68L11.49 -12.53L11.43 -12.36L11.32 -12.16ZM9.72 -14.39L8.8 -14.14L7.93 -13.6L7.11 -12.83L6.35 -11.88L5.64 -10.78L4.97 -9.57L4.34 -8.29L3.74 -6.98L3.16 -5.67L2.59 -4.4L2 -3.21L1.38 -2.12L0.72 -1.18L-0.03 -0.43L0.43 0.23L1.41 -0.48L2.35 -1.37L3.22 -2.43L4.03 -3.6L4.78 -4.86L5.47 -6.16L6.11 -7.46L6.69 -8.73L7.24 -9.93L7.76 -11.02L8.27 -11.96L8.78 -12.72L9.31 -13.28L9.88 -13.61ZM0.46 0.17L1.1 -0.18L1.78 -0.33L2.49 -0.33L3.27 -0.24L4.12 -0.11L5.05 0.03L6.05 0.13L7.11 0.16L8.22 0.06L9.35 -0.19L10.47 -0.63L11.56 -1.26L12.61 -2.1L13.68 -3.15L13.12 -3.65L12.11 -2.72L11.07 -2.13L10.05 -1.8L9.06 -1.64L8.1 -1.62L7.15 -1.67L6.2 -1.76L5.24 -1.84L4.27 -1.89L3.31 -1.86L2.37 -1.73L1.47 -1.45L0.66 -1L-0.06 -0.37Z" fill="#000"/><text x="426" y="131" font-size="13.4" textLength="12" lengthAdjust="spacingAndGlyphs" fill="#000">w</text><text x="439.8" y="131" font-size="13.4" textLength="8.8" lengthAdjust="spacingAndGlyphs" fill="#000">b</text>
<text x="458.1" y="128.7" font-size="17.9" textLength="52" lengthAdjust="spacingAndGlyphs" fill="#000">adap.</text>
</g>
<g>
<rect x="829.55" y="14" width="366.4" height="71.3" fill="#fff" stroke="#000" stroke-width="1.15"/>
<line x1="839.8" y1="34.75" x2="887.2" y2="34.75" stroke="#1b9e77" stroke-width="4.4"/>
<circle cx="863.45" cy="34.75" r="5.48" fill="#167e5f" stroke="#1b9e77" stroke-width="4.4"/>
<line x1="839.8" y1="64.8" x2="887.2" y2="64.8" stroke="#d95f02" stroke-width="4.4"/>
<rect x="857.97" y="59.32" width="10.96" height="10.96" fill="#ae4c02" stroke="#d95f02" stroke-width="4.4"/>
<path transform="translate(896.1 40.3) scale(1.0)" d="M13.08 -11.44L13.2 -11.95L13.23 -12.45L13.17 -12.92L13.02 -13.35L12.8 -13.73L12.53 -14.04L12.21 -14.29L11.87 -14.47L11.5 -14.6L11.12 -14.67L10.74 -14.68L10.36 -14.63L10 -14.53L9.64 -14.37L9.96 -13.63L10.21 -13.68L10.46 -13.68L10.69 -13.65L10.9 -13.58L11.08 -13.48L11.24 -13.37L11.36 -13.24L11.45 -13.1L11.51 -12.96L11.53 -12.82L11.52 -12.68L11.49 -12.53L11.43 -12.36L11.32 -12.16ZM9.72 -14.39L8.8 -14.14L7.93 -13.6L7.11 -12.83L6.35 -11.88L5.64 -10.78L4.97 -9.57L4.34 -8.29L3.74 -6.98L3.16 -5.67L2.59 -4.4L2 -3.21L1.38 -2.12L0.72 -1.18L-0.03 -0.43L0.43 0.23L1.41 -0.48L2.35 -1.37L3.22 -2.43L4.03 -3.6L4.78 -4.86L5.47 -6.16L6.11 -7.46L6.69 -8.73L7.24 -9.93L7.76 -11.02L8.27 -11.96L8.78 -12.72L9.31 -13.28L9.88 -13.61ZM0.46 0.17L1.1 -0.18L1.78 -0.33L2.49 -0.33L3.27 -0.24L4.12 -0.11L5.05 0.03L6.05 0.13L7.11 0.16L8.22 0.06L9.35 -0.19L10.47 -0.63L11.56 -1.26L12.61 -2.1L13.68 -3.15L13.12 -3.65L12.11 -2.72L11.07 -2.13L10.05 -1.8L9.06 -1.64L8.1 -1.62L7.15 -1.67L6.2 -1.76L5.24 -1.84L4.27 -1.89L3.31 -1.86L2.37 -1.73L1.47 -1.45L0.66 -1L-0.06 -0.37Z" fill="#000"/><text x="911.3" y="42.6" font-size="13.4" textLength="12" lengthAdjust="spacingAndGlyphs" fill="#000">w</text><text x="925.1" y="42.6" font-size="13.4" textLength="8.8" lengthAdjust="spacingAndGlyphs" fill="#000">b</text><line x1="937.5" y1="44.4" x2="945.1" y2="25.1" stroke="#000" stroke-width="0.95"/><path d="M950.4 25.9V45.1M955.15 25.9V45.1" stroke="#111" stroke-width="0.9" fill="none"/><text x="959.4" y="40.6" font-size="19.8" font-style="italic" textLength="12.2" lengthAdjust="spacingAndGlyphs" fill="#000" stroke="#fff" stroke-width="0.15">u</text><line x1="979" y1="34.6" x2="991.7" y2="34.6" stroke="#000" stroke-width="0.9"/><text x="999.2" y="40.6" font-size="19.8" font-style="italic" textLength="12.2" lengthAdjust="spacingAndGlyphs" fill="#000" stroke="#fff" stroke-width="0.15">u</text><text x="1013.2" y="43.3" font-size="14.5" font-style="italic" textLength="8.4" lengthAdjust="spacingAndGlyphs" fill="#000" stroke="#fff" stroke-width="0.12">θ</text><path d="M1026.6 25.9V45.1M1031.35 25.9V45.1" stroke="#111" stroke-width="0.9" fill="none"/><text x="1036" y="45.7" font-size="12.4" font-style="italic" textLength="12.6" lengthAdjust="spacingAndGlyphs" fill="#000" stroke="#fff" stroke-width="0.12">H</text><text x="1052.4" y="42.4" font-size="11" textLength="7.8" lengthAdjust="spacingAndGlyphs" fill="#000">1</text><text x="1062.9" y="46.6" font-size="13.6" textLength="4.6" lengthAdjust="spacingAndGlyphs" fill="#000">(</text><text x="1069.8" y="45.7" font-size="12.9" textLength="13.2" lengthAdjust="spacingAndGlyphs" fill="#000" stroke="#fff" stroke-width="0.12">Ω</text><text x="1084.8" y="46.6" font-size="13.6" textLength="4.6" lengthAdjust="spacingAndGlyphs" fill="#000">)</text>
<text x="1098.6" y="40.3" font-size="17.9" textLength="82.6" lengthAdjust="spacingAndGlyphs" fill="#000">no adap.</text>
<path transform="translate(911.2 70.4) scale(1.0)" d="M13.08 -11.44L13.2 -11.95L13.23 -12.45L13.17 -12.92L13.02 -13.35L12.8 -13.73L12.53 -14.04L12.21 -14.29L11.87 -14.47L11.5 -14.6L11.12 -14.67L10.74 -14.68L10.36 -14.63L10 -14.53L9.64 -14.37L9.96 -13.63L10.21 -13.68L10.46 -13.68L10.69 -13.65L10.9 -13.58L11.08 -13.48L11.24 -13.37L11.36 -13.24L11.45 -13.1L11.51 -12.96L11.53 -12.82L11.52 -12.68L11.49 -12.53L11.43 -12.36L11.32 -12.16ZM9.72 -14.39L8.8 -14.14L7.93 -13.6L7.11 -12.83L6.35 -11.88L5.64 -10.78L4.97 -9.57L4.34 -8.29L3.74 -6.98L3.16 -5.67L2.59 -4.4L2 -3.21L1.38 -2.12L0.72 -1.18L-0.03 -0.43L0.43 0.23L1.41 -0.48L2.35 -1.37L3.22 -2.43L4.03 -3.6L4.78 -4.86L5.47 -6.16L6.11 -7.46L6.69 -8.73L7.24 -9.93L7.76 -11.02L8.27 -11.96L8.78 -12.72L9.31 -13.28L9.88 -13.61ZM0.46 0.17L1.1 -0.18L1.78 -0.33L2.49 -0.33L3.27 -0.24L4.12 -0.11L5.05 0.03L6.05 0.13L7.11 0.16L8.22 0.06L9.35 -0.19L10.47 -0.63L11.56 -1.26L12.61 -2.1L13.68 -3.15L13.12 -3.65L12.11 -2.72L11.07 -2.13L10.05 -1.8L9.06 -1.64L8.1 -1.62L7.15 -1.67L6.2 -1.76L5.24 -1.84L4.27 -1.89L3.31 -1.86L2.37 -1.73L1.47 -1.45L0.66 -1L-0.06 -0.37Z" fill="#000"/><text x="926.4" y="72.7" font-size="13.4" textLength="12" lengthAdjust="spacingAndGlyphs" fill="#000">w</text><text x="940.2" y="72.7" font-size="13.4" textLength="8.8" lengthAdjust="spacingAndGlyphs" fill="#000">b</text><line x1="952.6" y1="74.5" x2="960.2" y2="55.2" stroke="#000" stroke-width="0.95"/><path d="M965.5 56V75.2M970.25 56V75.2" stroke="#111" stroke-width="0.9" fill="none"/><text x="974.5" y="70.7" font-size="19.8" font-style="italic" textLength="12.2" lengthAdjust="spacingAndGlyphs" fill="#000" stroke="#fff" stroke-width="0.15">u</text><line x1="994.1" y1="64.7" x2="1006.8" y2="64.7" stroke="#000" stroke-width="0.9"/><text x="1014.3" y="70.7" font-size="19.8" font-style="italic" textLength="12.2" lengthAdjust="spacingAndGlyphs" fill="#000" stroke="#fff" stroke-width="0.15">u</text><text x="1028.3" y="73.4" font-size="14.5" font-style="italic" textLength="8.4" lengthAdjust="spacingAndGlyphs" fill="#000" stroke="#fff" stroke-width="0.12">θ</text><path d="M1041.7 56V75.2M1046.45 56V75.2" stroke="#111" stroke-width="0.9" fill="none"/><text x="1051.1" y="75.8" font-size="12.4" font-style="italic" textLength="12.6" lengthAdjust="spacingAndGlyphs" fill="#000" stroke="#fff" stroke-width="0.12">H</text><text x="1067.5" y="72.5" font-size="11" textLength="7.8" lengthAdjust="spacingAndGlyphs" fill="#000">1</text><text x="1078" y="76.7" font-size="13.6" textLength="4.6" lengthAdjust="spacingAndGlyphs" fill="#000">(</text><text x="1084.9" y="75.8" font-size="12.9" textLength="13.2" lengthAdjust="spacingAndGlyphs" fill="#000" stroke="#fff" stroke-width="0.12">Ω</text><text x="1099.9" y="76.7" font-size="13.6" textLength="4.6" lengthAdjust="spacingAndGlyphs" fill="#000">)</text>
<text x="1114.2" y="70.4" font-size="17.9" textLength="52" lengthAdjust="spacingAndGlyphs" fill="#000">adap.</text>
</g>
</svg>
</body></html>
